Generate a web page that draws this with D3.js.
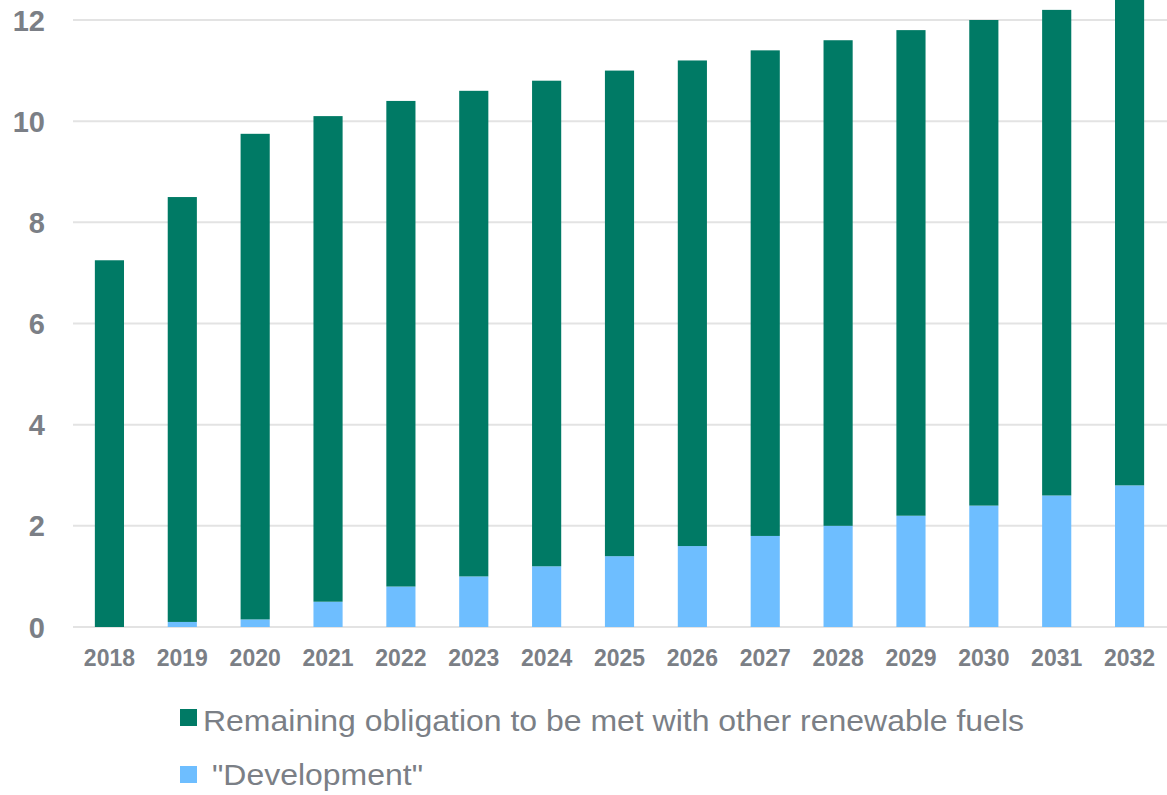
<!DOCTYPE html>
<html>
<head>
<meta charset="utf-8">
<script src="https://cdn.jsdelivr.net/npm/d3@7"></script>
<style>
  html, body { margin: 0; padding: 0; background: #fff; }
  svg { display: block; font-family: "Liberation Sans", Arial, sans-serif; }
</style>
</head>
<body>
<svg id="chart" width="1167" height="795"></svg>
<script>
const years = ["2018","2019","2020","2021","2022","2023","2024","2025","2026","2027","2028","2029","2030","2031","2032"];
const development = [0, 0.1, 0.15, 0.5, 0.8, 1.0, 1.2, 1.4, 1.6, 1.8, 2.0, 2.2, 2.4, 2.6, 2.8];
const totals = [7.25, 8.5, 9.75, 10.1, 10.4, 10.6, 10.8, 11.0, 11.2, 11.4, 11.6, 11.8, 12.0, 12.2, 12.4];
const remaining = totals.map((t, i) => +(t - development[i]).toFixed(2));
const yTicks = [0, 2, 4, 6, 8, 10, 12];
const seriesNames = ["Remaining obligation to be met with other renewable fuels", "\"Development\""];
const seriesKeys = ["development", "remaining"];
const colors = { remaining: "#007A65", development: "#6EBEFF" };
const textColor = "#7B7F86";

const rows = years.map((y, i) => ({ year: y, development: development[i], remaining: remaining[i] }));

const svg = d3.select("#chart");
const x = d3.scaleBand().domain(years).range([73, 1166]).paddingInner(0.6).paddingOuter(0.3);
const y = d3.scaleLinear().domain([0, 12]).range([627, 20]);

// gridlines
svg.append("g").selectAll("line").data(yTicks).join("line")
  .attr("x1", 73).attr("x2", 1167)
  .attr("y1", d => y(d)).attr("y2", d => y(d))
  .attr("stroke", "#E3E3E3").attr("stroke-width", 2);

// y labels
const yAxis = d3.axisLeft(y).tickValues(yTicks).tickSize(0).tickPadding(0).tickFormat(d3.format("d"));
const gy = svg.append("g").attr("transform", "translate(45,0)").call(yAxis);
gy.select(".domain").remove();
gy.selectAll("text").attr("fill", textColor).attr("font-size", 29).attr("font-weight", "bold")
  .attr("font-family", "'Liberation Sans', Arial, sans-serif").attr("dy", "0.35em");

// stacked bars
const stack = d3.stack().keys(seriesKeys)(rows);
svg.append("g").selectAll("g").data(stack).join("g")
  .attr("fill", d => colors[d.key])
  .selectAll("rect").data(d => d).join("rect")
  .attr("x", d => x(d.data.year))
  .attr("width", x.bandwidth())
  .attr("y", d => y(d[1]))
  .attr("height", d => Math.max(0, y(d[0]) - y(d[1])));

// x labels
const xAxis = d3.axisBottom(x).tickSize(0).tickPadding(0);
const gx = svg.append("g").attr("transform", "translate(0,666)").call(xAxis);
gx.select(".domain").remove();
gx.selectAll("text").attr("fill", textColor).attr("font-size", 23).attr("font-weight", "bold")
  .attr("font-family", "'Liberation Sans', Arial, sans-serif").attr("dy", 0);

// legend
const legend = [
  { name: seriesNames[0], color: colors.remaining, sy: 709, tx: 203, ty: 731, tl: 821 },
  { name: seriesNames[1], color: colors.development, sy: 766, tx: 212, ty: 785, tl: 211 }
];
const lg = svg.append("g").selectAll("g").data(legend).join("g");
lg.append("rect").attr("x", 180).attr("y", d => d.sy).attr("width", 17).attr("height", 17).attr("fill", d => d.color);
lg.append("text").attr("x", d => d.tx).attr("y", d => d.ty).attr("fill", textColor)
  .attr("font-size", 29).attr("textLength", d => d.tl).attr("lengthAdjust", "spacingAndGlyphs")
  .text(d => d.name);
</script>
</body>
</html>
